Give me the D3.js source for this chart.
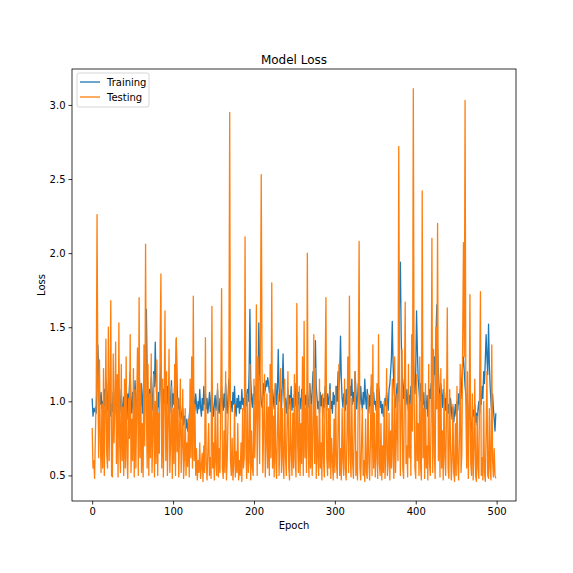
<!DOCTYPE html>
<html>
<head>
<meta charset="utf-8">
<script src="https://cdn.jsdelivr.net/npm/d3@7"></script>
<style>
  body { margin: 0; background: #fff; }
  text { font-family: "DejaVu Sans", sans-serif; fill: #000; }
</style>
</head>
<body>
<script>
// loss per epoch
const training = [
  1.02, 0.90, 0.95, 0.93, 0.96, 0.92, 1.10, 1.38, 1.20, 1.05,
  0.98, 1.06, 0.95, 1.00, 0.90, 1.08, 0.97, 1.15, 1.02, 0.94,
  1.12, 0.96, 1.05, 0.90, 0.98, 0.93, 1.06, 1.00, 0.92, 1.10,
  1.04, 0.95, 1.18, 1.00, 0.92, 0.98, 1.08, 0.90, 0.96, 1.03,
  0.94, 1.12, 1.00, 0.88, 1.05, 0.97, 1.10, 1.20, 0.98, 0.92,
  1.06, 0.95, 1.02, 1.14, 0.96, 0.90, 1.08, 1.00, 1.22, 1.05,
  0.97, 1.12, 0.92, 1.04, 1.15, 1.30, 1.10, 1.62, 1.18, 1.02,
  0.95, 1.08, 0.98, 1.16, 1.02, 0.94, 1.20, 1.10, 1.40, 1.12,
  1.00, 0.92, 1.06, 0.96, 1.12, 1.25, 1.00, 0.94, 1.08, 0.98,
  1.18, 1.04, 0.95, 1.10, 0.98, 1.06, 0.92, 1.02, 1.14, 0.96,
  1.05, 0.98, 1.12, 1.00, 1.42, 1.10, 0.95, 1.02, 0.90, 0.97,
  0.92, 0.88, 0.95, 0.84, 0.90, 0.86, 0.82, 0.88, 0.80, 0.85,
  0.90, 0.96, 0.92, 1.02, 0.95, 1.10, 1.00, 0.94, 1.05, 0.98,
  0.92, 1.00, 0.95, 1.08, 0.96, 0.90, 1.02, 0.94, 1.10, 0.98,
  1.05, 0.95, 1.02, 0.92, 0.98, 1.06, 0.93, 1.00, 1.12, 0.96,
  0.90, 0.98, 1.04, 0.94, 1.00, 1.08, 0.95, 0.92, 1.02, 0.97,
  1.10, 1.00, 0.94, 1.05, 0.96, 1.12, 0.98, 0.92, 1.04, 1.15,
  1.08, 0.96, 1.00, 0.93, 1.06, 0.98, 1.10, 0.95, 0.90, 1.02,
  0.96, 1.04, 0.92, 1.00, 0.95, 1.08, 0.98, 1.02, 0.94, 1.12,
  1.04, 0.97, 1.08, 1.00, 1.20, 1.62, 1.15, 1.02, 0.96, 1.05,
  0.98, 1.10, 1.02, 0.95, 1.15, 1.05, 1.53, 1.20, 1.08, 1.00,
  0.96, 1.02, 1.12, 1.05, 1.08, 1.14, 1.10, 1.16, 1.12, 1.06,
  1.10, 1.04, 0.98, 1.08, 1.02, 0.95, 1.05, 1.12, 0.98, 1.06,
  1.35, 1.10, 1.00, 1.08, 0.94, 1.12, 1.32, 1.05, 0.96, 1.02,
  0.92, 1.00, 1.08, 0.95, 1.04, 0.98, 1.10, 0.94, 1.02, 0.96,
  1.05, 0.97, 1.12, 1.00, 0.93, 1.06, 0.98, 1.02, 0.95, 1.08,
  1.00, 0.94, 1.10, 0.98, 1.04, 0.92, 1.06, 1.00, 0.96, 1.12,
  1.04, 0.95, 1.08, 1.20, 1.05, 0.98, 1.41, 1.10, 1.02, 0.95,
  1.00, 0.92, 1.06, 0.97, 1.04, 0.90, 1.02, 0.96, 1.10, 1.00,
  0.94, 1.05, 0.98, 1.02, 1.12, 0.95, 1.00, 0.92, 1.06, 0.98,
  1.04, 0.96, 1.10, 1.00, 1.20, 1.08, 1.18, 1.44, 1.15, 1.02,
  0.96, 1.05, 1.00, 0.94, 1.08, 0.98, 1.12, 1.02, 0.96, 1.10,
  1.04, 1.15, 0.98, 1.06, 1.00, 1.20, 1.08, 0.95, 1.02, 1.12,
  1.05, 0.98, 1.10, 1.00, 0.94, 1.06, 0.98, 1.15, 1.02, 0.95,
  1.08, 1.00, 0.92, 1.04, 0.97, 1.10, 1.02, 0.96, 1.06, 0.98,
  1.00, 0.94, 1.08, 1.02, 1.10, 1.05, 0.96, 1.00, 0.92, 0.98,
  0.90, 0.95, 1.02, 0.97, 1.06, 1.00, 0.94, 1.08, 1.12, 1.20,
  1.30, 1.54, 1.25, 1.10, 1.02, 0.96, 1.05, 1.12, 1.00, 1.35,
  1.70, 1.94, 1.45, 1.20, 1.10, 1.02, 1.15, 1.05, 0.98, 1.08,
  1.00, 0.94, 1.04, 0.98, 1.10, 1.02, 1.18, 1.30, 1.12, 1.05,
  1.20, 1.61, 1.35, 1.15, 1.08, 1.00, 1.12, 0.96, 1.04, 0.98,
  1.06, 0.92, 1.00, 0.95, 1.04, 0.90, 0.98, 1.08, 1.02, 1.12,
  1.05, 1.20, 1.10, 1.30, 1.18, 1.42, 1.65, 1.35, 1.20, 1.08,
  1.00, 1.12, 1.04, 0.96, 1.08, 0.98, 1.02, 0.94, 1.06, 1.00,
  0.92, 0.98, 0.90, 1.02, 0.95, 0.88, 0.96, 0.86, 0.92, 0.98,
  0.90, 1.00, 0.94, 1.05, 0.98, 1.08, 1.02, 1.15, 1.25, 1.30,
  1.20, 1.10, 1.04, 0.96, 1.00, 0.92, 0.88, 0.95, 0.85, 0.80,
  0.88, 0.94, 0.90, 0.98, 0.86, 0.92, 0.84, 0.95, 1.00, 0.92,
  1.05, 0.98, 1.10, 1.02, 1.20, 1.12, 1.28, 1.45, 1.30, 1.18,
  1.52, 1.25, 1.10, 1.00, 0.92, 1.05, 0.95, 0.88, 0.80, 0.92
];

const testing = [
  0.82, 0.55, 0.60, 0.48, 0.78, 1.05, 2.26, 1.20, 0.62, 1.28,
  0.75, 0.52, 0.98, 0.55, 1.22, 0.50, 0.92, 1.42, 0.64, 0.55,
  1.50, 0.60, 1.10, 1.68, 0.50, 0.49, 1.32, 0.72, 0.98, 1.40,
  0.58, 1.18, 0.49, 1.53, 0.70, 0.52, 1.25, 0.60, 0.96, 0.50,
  1.15, 0.55, 1.30, 0.62, 0.48, 1.02, 0.75, 1.45, 0.52, 0.88,
  0.60, 1.22, 0.49, 1.08, 0.55, 0.95, 1.36, 0.50, 1.70, 0.62,
  1.12, 0.52, 0.85, 0.49, 1.38, 0.70, 2.06, 0.95, 0.55, 1.25,
  0.50, 1.05, 0.62, 1.32, 0.52, 0.80, 1.18, 0.49, 1.00, 0.58,
  1.28, 0.50, 0.92, 0.65, 1.40, 1.86, 0.55, 1.15, 0.49, 0.98,
  1.61, 0.60, 1.20, 0.50, 0.85, 1.35, 0.52, 0.72, 1.10, 0.48,
  0.95, 0.58, 1.25, 0.50, 1.43, 0.66, 1.02, 0.49, 0.78, 1.15,
  0.52, 0.70, 1.08, 0.48, 0.62, 0.95, 0.50, 0.72, 0.56, 0.88,
  0.49, 1.15, 0.62, 1.30, 0.55, 1.71, 0.60, 0.98, 0.50, 0.68,
  0.47, 0.60, 0.52, 0.72, 0.48, 0.56, 0.65, 0.46, 0.70, 0.52,
  1.43, 0.58, 0.47, 0.66, 0.85, 0.50, 0.62, 0.48, 1.64, 0.55,
  0.72, 0.47, 0.95, 0.58, 0.50, 1.12, 0.49, 0.68, 0.52, 1.05,
  1.76, 0.55, 0.48, 0.80, 0.52, 1.20, 0.47, 0.62, 0.90, 1.10,
  2.95, 0.60, 0.50, 0.75, 0.47, 0.58, 0.98, 0.49, 0.66, 0.52,
  0.85, 0.47, 0.60, 0.50, 0.72, 0.46, 0.95, 0.55, 0.62, 2.11,
  0.70, 0.48, 1.05, 0.52, 0.60, 1.25, 0.47, 0.80, 0.55, 0.50,
  1.15, 0.62, 0.88, 1.65, 0.50, 1.30, 0.95, 0.58, 1.40, 2.53,
  1.20, 0.52, 0.85, 1.18, 0.49, 0.70, 1.05, 0.55, 0.96, 0.50,
  1.25, 0.62, 1.80, 0.55, 0.90, 0.49, 1.12, 0.60, 0.48, 0.82,
  1.05, 0.50, 0.70, 1.22, 0.52, 0.95, 0.58, 0.48, 1.15, 0.62,
  0.50, 0.88, 1.20, 0.55, 0.47, 1.02, 0.66, 0.50, 0.92, 0.55,
  1.18, 0.60, 0.49, 1.66, 0.72, 0.52, 1.10, 0.50, 0.85, 0.58,
  1.30, 0.50, 1.54, 0.62, 0.95, 0.52, 2.00, 0.70, 0.49, 1.12,
  0.55, 0.98, 0.50, 0.80, 1.45, 0.58, 1.22, 0.48, 0.90, 0.62,
  0.50, 1.15, 0.55, 0.72, 0.47, 1.05, 0.60, 0.49, 1.20, 1.70,
  0.62, 0.50, 0.95, 0.55, 1.08, 0.48, 0.75, 0.60, 0.47, 0.88,
  0.52, 1.10, 0.58, 0.48, 0.82, 1.25, 0.50, 0.68, 0.47, 0.95,
  0.60, 0.50, 1.15, 0.55, 0.47, 0.78, 1.30, 0.52, 1.71, 0.62,
  0.49, 1.02, 0.58, 0.48, 0.85, 1.20, 0.50, 0.66, 0.47, 1.08,
  2.08, 0.55, 0.47, 0.72, 0.95, 0.50, 0.60, 0.46, 0.88, 0.52,
  0.48, 1.05, 0.60, 0.47, 0.75, 1.18, 0.50, 1.38, 0.55, 0.92,
  0.49, 0.62, 1.12, 0.48, 1.45, 0.58, 0.50, 0.85, 0.47, 0.70,
  0.52, 1.00, 0.48, 0.65, 1.22, 0.50, 0.58, 0.92, 0.47, 0.80,
  0.55, 1.15, 0.62, 0.48, 1.30, 0.52, 0.75, 1.05, 0.60, 2.72,
  1.20, 0.50, 0.92, 1.35, 0.55, 0.48, 1.10, 1.67, 0.58, 0.70,
  0.49, 1.25, 0.62, 0.98, 0.50, 1.45, 0.80, 3.11, 1.05, 0.55,
  0.48, 1.18, 0.60, 0.85, 0.50, 1.30, 0.55, 0.47, 2.42, 0.62,
  0.95, 0.48, 1.12, 0.55, 0.70, 0.47, 1.25, 0.58, 0.50, 0.88,
  2.10, 0.52, 1.35, 0.65, 0.48, 1.50, 0.95, 2.20, 0.60, 1.05,
  0.49, 1.22, 0.55, 0.80, 0.47, 1.15, 0.62, 0.50, 0.92, 1.63,
  0.55, 0.48, 1.08, 0.70, 0.47, 0.60, 0.98, 0.52, 0.46, 0.85,
  0.50, 1.10, 0.58, 0.47, 0.75, 1.25, 0.52, 0.65, 1.40, 2.07,
  1.30, 3.03, 0.95, 0.55, 1.20, 0.48, 0.85, 1.72, 0.58, 0.50,
  1.05, 0.47, 0.68, 1.15, 0.50, 0.46, 0.90, 0.55, 0.48, 1.12,
  1.74, 0.50, 0.62, 0.47, 1.00, 0.52, 0.46, 0.78, 1.20, 0.50,
  0.48, 0.95, 0.55, 0.47, 1.38, 0.60, 0.49, 0.68, 0.50, 0.48
];

const seriesNames = ["Training", "Testing"];
const seriesColors = ["#1f77b4", "#ff7f0e"];
const xTicks = [0, 100, 200, 300, 400, 500];
const yTicks = [0.5, 1.0, 1.5, 2.0, 2.5, 3.0];

const W = 573, H = 573;
const margin = { left: 72, right: 57, top: 69, bottom: 72 };
const plotW = W - margin.left - margin.right;
const plotH = H - margin.top - margin.bottom;

const svg = d3.select("body")
    .append("svg")
    .attr("width", W)
    .attr("height", H);

// matplotlib style 5% padding around the data
const n = training.length;
const xPad = (n - 1) * 0.05;
const allVals = training.concat(testing);
const yMin = d3.min(allVals), yMax = d3.max(allVals);
const yPad = (yMax - yMin) * 0.05;

const x = d3.scaleLinear()
    .domain([-xPad, n - 1 + xPad])
    .range([0, plotW]);

const y = d3.scaleLinear()
    .domain([yMin - yPad, yMax + yPad])
    .range([plotH, 0]);

const g = svg.append("g")
    .attr("transform", `translate(${margin.left},${margin.top})`);

const line = d3.line()
    .x((d, i) => x(i))
    .y(d => y(d));

[training, testing].forEach((series, k) => {
    g.append("path")
        .datum(series)
        .attr("fill", "none")
        .attr("stroke", seriesColors[k])
        .attr("stroke-width", 1.3)
        .attr("stroke-linejoin", "round")
        .attr("d", line);
});

// axes
const xAxis = g.append("g")
    .attr("transform", `translate(0,${plotH})`)
    .call(d3.axisBottom(x).tickValues(xTicks).tickFormat(d3.format("d")).tickSize(3.5).tickPadding(3));

const yAxis = g.append("g")
    .call(d3.axisLeft(y).tickValues(yTicks).tickFormat(d3.format(".1f")).tickSize(3.5).tickPadding(3));

[xAxis, yAxis].forEach(a => {
    a.select(".domain").remove();
    a.selectAll(".tick line").attr("stroke", "#000").attr("stroke-width", 0.8);
    a.selectAll(".tick text")
        .style("font-family", "DejaVu Sans, sans-serif")
        .style("font-size", "10px")
        .attr("fill", "#222");
});

// frame
g.append("rect")
    .attr("width", plotW)
    .attr("height", plotH)
    .attr("fill", "none")
    .attr("stroke", "#000")
    .attr("stroke-width", 0.8);

svg.append("text")
    .attr("x", margin.left + plotW / 2)
    .attr("y", 64)
    .attr("text-anchor", "middle")
    .style("font-size", "12px")
    .text("Model Loss");

svg.append("text")
    .attr("x", margin.left + plotW / 2)
    .attr("y", 529)
    .attr("text-anchor", "middle")
    .style("font-size", "10px")
    .text("Epoch");

svg.append("text")
    .attr("transform", `translate(45,${margin.top + plotH / 2}) rotate(-90)`)
    .attr("text-anchor", "middle")
    .style("font-size", "10px")
    .text("Loss");

// legend
const legend = g.append("g").attr("transform", "translate(5,4)");
legend.append("rect")
    .attr("width", 72)
    .attr("height", 34)
    .attr("rx", 2)
    .attr("fill", "#fff")
    .attr("fill-opacity", 0.8)
    .attr("stroke", "#ccc")
    .attr("stroke-width", 0.8);

seriesNames.forEach((name, k) => {
    const ly = 9 + k * 15;
    legend.append("line")
        .attr("x1", 3).attr("x2", 23)
        .attr("y1", ly).attr("y2", ly)
        .attr("stroke", seriesColors[k])
        .attr("stroke-width", 1.3);
    legend.append("text")
        .attr("x", 30)
        .attr("y", ly + 3.5)
        .style("font-size", "10px")
        .text(name);
});
</script>
</body>
</html>
